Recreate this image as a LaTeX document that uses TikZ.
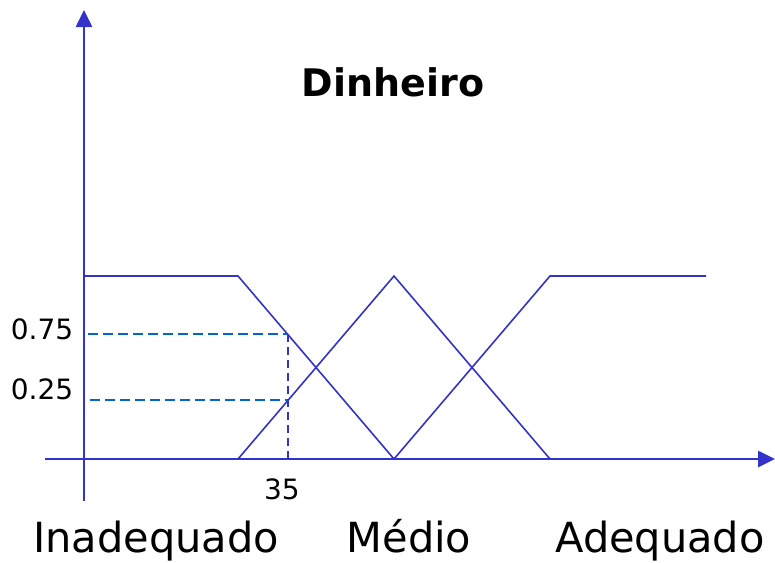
\documentclass[tikz,border=0pt]{standalone}
\usepackage{fontspec}
\setmainfont{DejaVu Sans}
\usetikzlibrary{arrows.meta}
\definecolor{axisblue}{HTML}{3333CC}
\definecolor{dashblue}{HTML}{0066CC}
\tikzset{
  axisline/.style={draw=axisblue, line width=2.6pt, -{Triangle[length=17pt,width=16pt]}},
  memberline/.style={draw=axisblue, line width=1.6pt},
  levelline/.style={draw=dashblue, line width=2.4pt, dash pattern=on 10pt off 5pt},
  cutline/.style={draw=axisblue, line width=1.7pt, dash pattern=on 8pt off 5pt},
  ticklabel/.style={inner sep=0pt, font=\fontsize{28}{30}\selectfont},
  setlabel/.style={inner sep=0pt, anchor=base, font=\fontsize{41.5}{44}\selectfont}
}
\begin{document}
\begin{tikzpicture}[x=1pt, y=-1pt]
            \useasboundingbox (0,0) rectangle (775,562);
            % Axes
            \coordinate (origin) at (84,459);
            \coordinate (ybot) at (84,501);
            \coordinate (ytop) at (84,10);
            \coordinate (xleft) at (45,459);
            \coordinate (xright) at (775,459);
            \draw[axisline] (ybot) -- (ytop);
            \draw[axisline] (xleft) -- (xright);
            % Title
            \node[inner sep=0pt, font=\bfseries\fontsize{38}{40}\selectfont] (title) at (393,82) {Dinheiro};
            % Membership functions
            \coordinate (inadTop) at (238,276);
            \coordinate (inadEnd) at (394,459);
            \coordinate (medStart) at (238,459);
            \coordinate (medPeak) at (394,276);
            \coordinate (medEnd) at (550,459);
            \coordinate (adeStart) at (394,459);
            \coordinate (adeTop) at (550,276);
            \coordinate (adeEnd) at (706,276);
            \draw[memberline] (84,276) -- (inadTop) -- (inadEnd);
            \draw[memberline] (medStart) -- (medPeak) -- (medEnd);
            \draw[memberline] (adeStart) -- (adeTop) -- (adeEnd);
            % Degrees at x = 35
            \coordinate (hiLeft) at (88,334);
            \coordinate (hiPt) at (288,334);
            \coordinate (loLeft) at (90,400);
            \coordinate (loPt) at (288,400);
            \coordinate (cutBot) at (288,459);
            \draw[levelline] (hiLeft) -- (hiPt);
            \draw[levelline] (loLeft) -- (loPt);
            \draw[cutline] (hiPt) -- (cutBot);
            \node[ticklabel] (hiLabel) at (42,329) {0.75};
            \node[ticklabel] (loLabel) at (42,389) {0.25};
            \node[ticklabel] (xLabel) at (282,489) {35};
            % Linguistic terms
            \node[setlabel] (inad) at (156,552) {Inadequado};
            \node[setlabel] (med) at (409,552) {Médio};
            \node[setlabel] (ade) at (660,552) {Adequado};
\end{tikzpicture}
\end{document}
